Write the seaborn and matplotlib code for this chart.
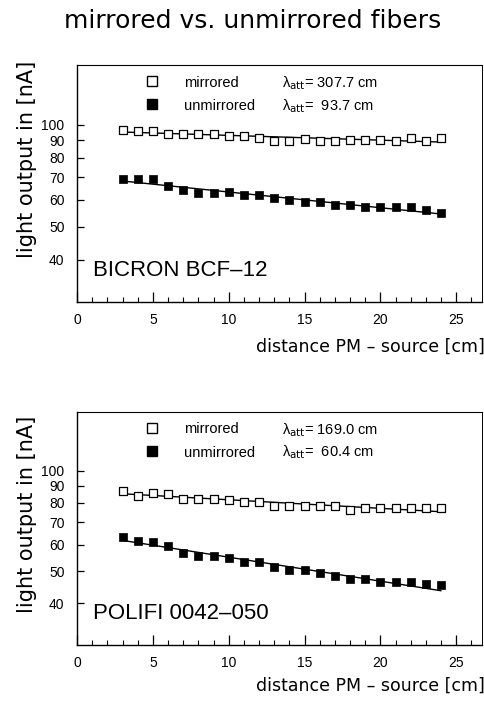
import numpy as np
import pandas as pd
import matplotlib
matplotlib.use('Agg')
import matplotlib.pyplot as plt
from matplotlib.ticker import FixedLocator, NullFormatter, NullLocator, MultipleLocator
from matplotlib.lines import Line2D
import seaborn as sns

## distance PM - source [cm]
distance = list(range(3, 25))

## BICRON BCF-12
bicron_mirrored = [96.7, 96.0, 96.0, 93.9, 94.0, 94.0, 94.0, 92.8, 92.5, 91.7, 89.7,
                   89.7, 91.0, 89.7, 89.3, 90.3, 90.3, 90.3, 89.7, 91.7, 89.3, 91.7]
bicron_unmirrored = [69.1, 69.1, 69.1, 65.8, 64.0, 62.9, 62.9, 63.2, 62.2, 61.9, 61.0,
                     60.1, 59.0, 59.1, 58.1, 58.1, 57.1, 57.2, 57.1, 57.2, 56.1, 54.9]
bicron_lambda = [307.7, 93.7]

## POLIFI 0042-050
polifi_mirrored = [87.0, 84.1, 86.0, 85.2, 82.3, 82.3, 82.3, 81.4, 80.3, 80.5, 78.1,
                   78.1, 78.4, 78.4, 78.4, 76.3, 77.5, 77.5, 77.5, 77.5, 77.5, 77.5]
polifi_unmirrored = [63.4, 61.5, 61.3, 59.5, 56.5, 55.5, 55.5, 54.6, 53.3, 53.3, 51.3,
                     50.3, 50.3, 49.2, 48.3, 47.3, 47.3, 46.4, 46.4, 46.4, 45.6, 45.3]
polifi_lambda = [169.0, 60.4]

y_ticks = [40, 50, 60, 70, 80, 90, 100]

sns.set_style('white')
plt.rcParams['font.family'] = ['Liberation Sans', 'DejaVu Sans']
plt.rcParams['mathtext.fontset'] = 'dejavusans'
for k in ['text.color', 'axes.labelcolor', 'xtick.color', 'ytick.color']:
    plt.rcParams[k] = 'black'


def fit_line(x, y, lam):
    ## exponentielle Anpassung mit festem lambda
    x = np.asarray(x, dtype=float)
    amp = np.exp(np.mean(np.log(y) + x / lam))
    return amp * np.exp(-x / lam)


def panel(ax, mirrored, unmirrored, lambdas, label, xlab_y, ylab_y):
    df = pd.DataFrame({'x': distance, 'm': mirrored, 'u': unmirrored})
    df['fit_m'] = fit_line(distance, mirrored, lambdas[0])
    df['fit_u'] = fit_line(distance, unmirrored, lambdas[1])

    sns.lineplot(data=df, x='x', y='fit_m', ax=ax, color='black', lw=1.0)
    sns.lineplot(data=df, x='x', y='fit_u', ax=ax, color='black', lw=1.0)
    sns.scatterplot(data=df, x='x', y='m', ax=ax, marker='s', s=30,
                    facecolor='white', edgecolor='black', linewidth=0.9, zorder=3)
    sns.scatterplot(data=df, x='x', y='u', ax=ax, marker='s', s=30,
                    color='black', edgecolor='black', linewidth=0.5, zorder=3)

    ax.set_yscale('log')
    ax.set_ylim(30, 150)
    ax.set_xlim(0, 26.7)
    ax.yaxis.set_major_locator(FixedLocator(y_ticks))
    ax.yaxis.set_minor_locator(NullLocator())
    ax.yaxis.set_minor_formatter(NullFormatter())
    ax.set_yticklabels([str(v) for v in y_ticks])
    ax.xaxis.set_major_locator(MultipleLocator(5))
    ax.xaxis.set_minor_locator(MultipleLocator(1))
    ax.tick_params(axis='both', which='both', bottom=True, left=True, top=False, right=False)
    ax.tick_params(axis='both', which='major', direction='in', length=7, width=0.9,
                   labelsize=10)
    ax.tick_params(axis='x', which='minor', direction='in', length=3.5, width=0.8)
    ax.tick_params(axis='x', which='major', pad=8)
    ax.tick_params(axis='y', which='major', length=5, pad=9)
    for s in ax.spines.values():
        s.set_color('black')
        s.set_linewidth(1.0)
    ax.spines['right'].set_linewidth(0.7)
    ax.spines['top'].set_linewidth(0.8)

    ax.set_xlabel('distance PM – source [cm]', fontsize=12.5, family='DejaVu Sans')
    ax.xaxis.set_label_coords(1.006, xlab_y)
    ax.xaxis.label.set_horizontalalignment('right')
    ax.set_ylabel('light output in [nA]', fontsize=15, family='DejaVu Sans')
    ax.yaxis.set_label_coords(-0.1, ylab_y)

    handles = [Line2D([], [], marker='s', ls='', mfc='white', mec='black', ms=7),
               Line2D([], [], marker='s', ls='', mfc='black', mec='black', ms=7)]
    ax.legend(handles, ['mirrored', 'unmirrored'], loc='upper left',
              bbox_to_anchor=(0.12, 1.005), frameon=False, fontsize=10.5,
              handletextpad=1.2, labelspacing=0.62, borderpad=0.3)
    ax.text(0.507, 0.924, 'λ$_{\\mathrm{att}}$= %.1f cm' % lambdas[0], transform=ax.transAxes,
            fontsize=10.5, va='center')
    ax.text(0.507, 0.826, 'λ$_{\\mathrm{att}}$=  %.1f cm' % lambdas[1], transform=ax.transAxes,
            fontsize=10.5, va='center')
    ax.text(0.04, 0.135, label, transform=ax.transAxes, fontsize=16, va='center')


fig = plt.figure(figsize=(4.85, 7.01), dpi=100)
ax1 = fig.add_axes([0.1588, 0.5692, 0.835, 0.338])
ax2 = fig.add_axes([0.1588, 0.0799, 0.835, 0.3324])

panel(ax1, bicron_mirrored, bicron_unmirrored, bicron_lambda, 'BICRON BCF–12', -0.15, 0.6)
panel(ax2, polifi_mirrored, polifi_unmirrored, polifi_lambda, 'POLIFI 0042–050', -0.135, 0.56)

fig.text(0.52, 0.960, 'mirrored vs. unmirrored fibers', ha='center', va='baseline',
         fontsize=18, family='DejaVu Sans')

fig.savefig('out.png', dpi=100)
